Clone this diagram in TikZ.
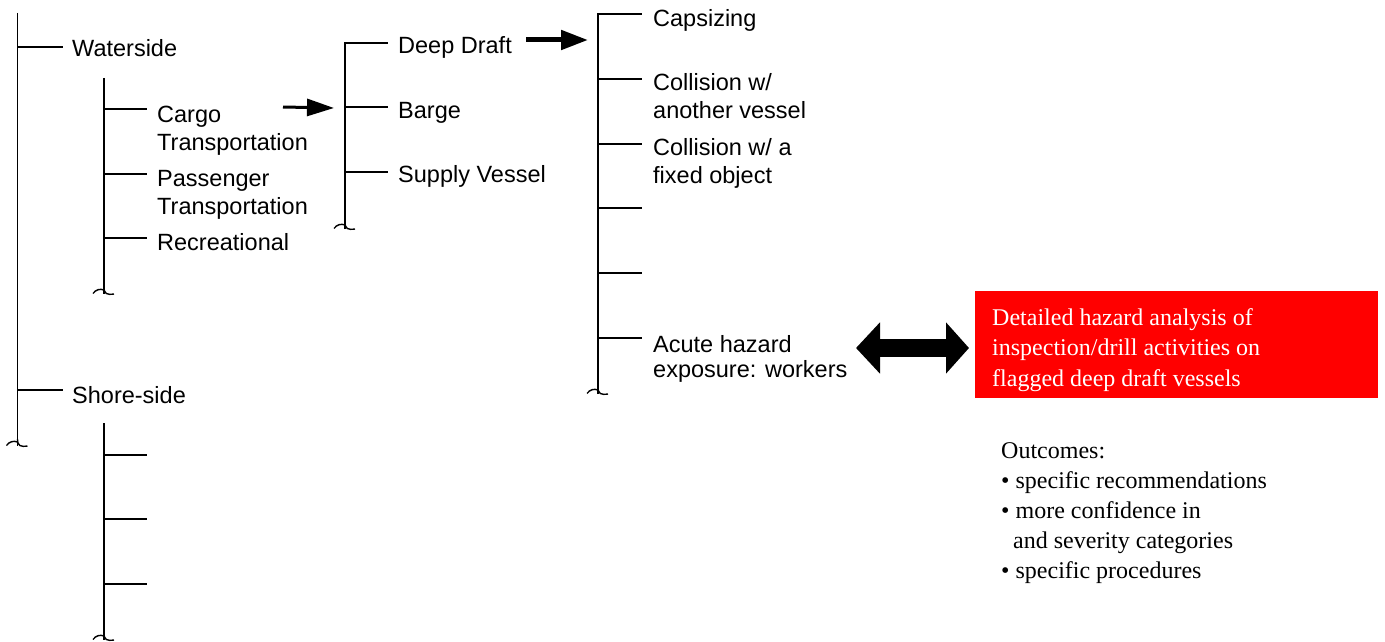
\documentclass[tikz,border=0pt]{standalone}
\usepackage{fontspec}
\setmainfont{Liberation Sans}
\newfontfamily\timesf{Liberation Serif}
\usetikzlibrary{arrows.meta}
\begin{document}
\begin{tikzpicture}[x=1pt,y=-1pt,
  lbl/.style={anchor=base west, inner sep=0pt, align=left, font=\fontsize{23.5}{28}\selectfont},
  serifbox/.style={anchor=base west, inner sep=0pt, align=left, font=\timesf\fontsize{24}{30.5}\selectfont},
  vbar/.style={line width=1.8pt},
  tickline/.style={line width=1.4pt},
  curlend/.pic={\draw[line width=1.4pt] (0,-7) .. controls (0,0) and (3,1) .. (10,0);
                \draw[line width=1.4pt] (-11,-0.5) .. controls (-8,-4.5) and (-4,-5.5) .. (0,-4);},
  thinarrow/.style={line width=3pt, -{Triangle[length=27pt,width=17pt]}},
  thickarrow/.style={line width=5pt, -{Triangle[length=27pt,width=19pt]}},
  bigdouble/.style={line width=18pt, {Triangle[length=24pt,width=50pt]}-{Triangle[length=23pt,width=50pt]}}
]
\useasboundingbox (0,0) rectangle (1385,642);

% ---- level 0 bracket
\coordinate (b0t) at (17.5,13);
\coordinate (b0b) at (17.5,446);
\draw[vbar] (b0t) -- (b0b);
\pic at (b0b) {curlend};
\coordinate (t0a) at (17.5,47);
\coordinate (t0b) at (17.5,390);
\draw[tickline] (t0a) -- ++(45,0);
\draw[tickline] (t0b) -- ++(45,0);
\node[lbl] (water) at (72,57) {Waterside};
\node[lbl] (shore) at (72,403) {Shore-side};

% ---- waterside sub bracket
\coordinate (b1t) at (104,78);
\coordinate (b1b) at (104,294);
\draw[vbar] (b1t) -- (b1b);
\pic at (b1b) {curlend};
\draw[tickline] (104,109) -- ++(43,0);
\draw[tickline] (104,174) -- ++(43,0);
\draw[tickline] (104,238) -- ++(43,0);
\node[lbl] (cargo) at (157,150) {Cargo\\Transportation};
\node[lbl] (pass) at (157,214) {Passenger\\Transportation};
\node[lbl] (recr) at (157,250) {Recreational};

% ---- shore-side sub bracket
\coordinate (b2t) at (104,423);
\coordinate (b2b) at (104,640);
\draw[vbar] (b2t) -- (b2b);
\pic at (b2b) {curlend};
\draw[tickline] (104,455) -- ++(43,0);
\draw[tickline] (104,519) -- ++(43,0);
\draw[tickline] (104,584) -- ++(43,0);

% ---- vessel bracket
\coordinate (b3t) at (345,43);
\coordinate (b3b) at (345,229);
\draw[vbar] (b3b) -- (b3t) -- ++(43,0);
\pic at (b3b) {curlend};
\draw[tickline] (345,107) -- ++(43,0);
\draw[tickline] (345,172) -- ++(43,0);
\node[lbl] (deep) at (398,54) {Deep Draft};
\node[lbl] (barge) at (398,118) {Barge};
\node[lbl] (supply) at (398,182) {Supply Vessel};

% ---- hazard bracket
\coordinate (b4t) at (598,14);
\coordinate (b4b) at (598,394);
\draw[vbar] (b4b) -- (b4t) -- ++(44,0);
\pic at (b4b) {curlend};
\draw[tickline] (598,79) -- ++(44,0);
\draw[tickline] (598,144) -- ++(44,0);
\draw[tickline] (598,208) -- ++(44,0);
\draw[tickline] (598,273) -- ++(44,0);
\draw[tickline] (598,338) -- ++(44,0);
\node[lbl] (caps) at (653,27) {Capsizing};
\node[lbl] (coll1) at (653,118) {Collision w/\\another vessel};
\node[lbl] (coll2) at (653,183) {Collision w/ a\\fixed object};
\node[lbl] (acute) at (653,377) {Acute hazard\\[-3pt]exposure: workers};

% ---- red box
\node[fill=red, minimum width=403pt, minimum height=107pt, anchor=north west, inner sep=0pt] (box) at (975,291) {};
\node[serifbox, text=white] (boxtxt) at (992,386) {Detailed hazard analysis of\\inspection/drill activities on\\flagged deep draft vessels};

% ---- outcomes
\node[anchor=base west, inner sep=0pt, align=left, font=\timesf\fontsize{24}{30}\selectfont] (out) at (1001,578)
  {Outcomes:\\• specific recommendations\\• more confidence in\\\hspace*{12pt}and severity categories\\• specific procedures};

% ---- arrows
\coordinate (a1s) at (283,107);
\coordinate (a1e) at (334,108);
\draw[thinarrow] (a1s) -- (a1e);
\coordinate (a2s) at (526,40);
\coordinate (a2e) at (588,40);
\draw[thickarrow] (a2s) -- (a2e);
\coordinate (a3s) at (856,348);
\coordinate (a3e) at (969,348);
\draw[bigdouble] (a3s) -- (a3e);
\end{tikzpicture}
\end{document}
